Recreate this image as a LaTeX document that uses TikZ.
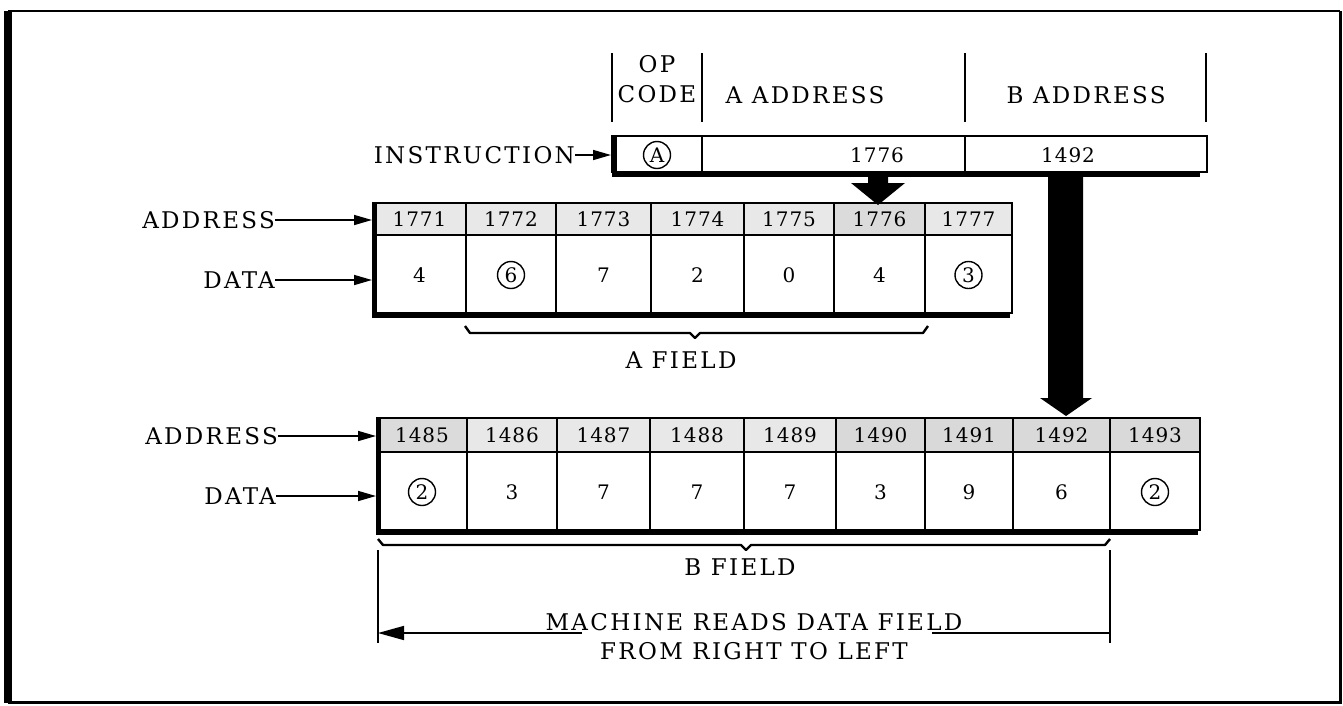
\documentclass[tikz,border=0pt]{standalone}
\usepackage{fontspec}
\setmainfont{DejaVu Serif}[LetterSpace=10]
\newfontfamily\digfont{DejaVu Serif}[LetterSpace=5]
\usetikzlibrary{arrows.meta}
\tikzset{
  txt/.style={font=\fontsize{23}{26}\selectfont, inner sep=0pt},
  dtxt/.style={font=\digfont\fontsize{20}{23}\selectfont, inner sep=0pt},
  cell/.style={line width=1.3pt},
  shadowline/.style={line width=5pt, line join=miter},
  lab/.style={-{Triangle[length=18pt,width=10pt]}, line width=1.6pt},
  plain/.style={},
  circ/.style={circle, draw, line width=1.4pt, minimum size=27pt, inner sep=0pt},
  brace/.style={line width=2.4pt, line join=round},
  bigarrow/.style={fill=black, draw=none},
}
\begin{document}
\begin{tikzpicture}[x=1pt,y=-1pt]
\useasboundingbox (0,0) rectangle (1343,705);
% frame
\draw[line width=2pt] (8,11) -- (1340,11);
\draw[line width=8pt] (8,11) -- (8,703);
\draw[line width=3pt] (1340,11) -- (1340,702) -- (8,702);

% header separators
\foreach \x in {612,702,965,1206} \draw[line width=1.6pt] (\x,53) -- (\x,122);
\node[txt] (op) at (657,64) {OP};
\node[txt] (code) at (657,94) {CODE};
\node[txt] (aaddr) at (805,95) {A ADDRESS};
\node[txt] (baddr) at (1086,95) {B ADDRESS};

% instruction box
\draw[cell] (612,136) rectangle (1207,172);
\draw[cell] (702,136) -- (702,172);
\draw[cell] (965,136) -- (965,172);
\draw[shadowline] (614,136) -- (614,174) -- (1200,174);
\node[txt, anchor=east] (instr) at (575,155) {INSTRUCTION};
\coordinate (instrL) at (611,155);
\draw[lab] (instr.east) -- (instrL);
\node[circ, dtxt] (opA) at (657,155) {A};
\node[dtxt] (ia) at (877,155) {1776};
\node[dtxt] (ib) at (1068,155) {1492};

% A memory
\foreach \l/\r/\a/\d/\s/\g [count=\i] in {
  373/466/1771/4/plain/18, 466/556/1772/6/circ/18, 556/651/1773/7/plain/18,
  651/744/1774/2/plain/18, 744/834/1775/0/plain/18, 834/925/1776/4/plain/28,
  925/1012/1777/3/circ/18}{
  \draw[cell, fill=gray!\g] (\l,203) rectangle (\r,235);
  \draw[cell] (\l,235) rectangle (\r,313);
  \node[dtxt] (aA\i) at ({(\l+\r)/2},219) {\a};
  \node[dtxt, \s] (aD\i) at ({(\l+\r)/2},275) {\d};
}
\draw[shadowline] (374,203) -- (374,315.5) -- (1010,315.5);
\node[txt, anchor=east] (addrA) at (275,220) {ADDRESS};
\node[txt, anchor=east] (dataA) at (275,280) {DATA};
\coordinate (amemA) at (372,220);
\coordinate (amemD) at (372,280);
\draw[lab] (addrA.east) -- (amemA);
\draw[lab] (dataA.east) -- (amemD);

% A field brace
\draw[brace] (465,326) -- (470,333) -- (690,333) -- (695,338) -- (700,333) -- (923,333) -- (928,326);
\node[txt] (afield) at (681,360) {A FIELD};

% A arrow (from instruction to 1776)
\coordinate (aarTip) at (878,205);
\fill[bigarrow] (868,176) -- (888,176) -- (888,183) -- (905,183) -- (aarTip) -- (851,183) -- (868,183) -- cycle;

% B arrow
\coordinate (barTip) at (1066,416);
\fill[bigarrow] (1048,177) -- (1083,177) -- (1083,398) -- (1092,398) -- (barTip) -- (1040,398) -- (1048,398) -- cycle;

% B memory
\foreach \l/\r/\a/\d/\s/\g [count=\i] in {
  377/467/1485/2/circ/28, 467/557/1486/3/plain/18, 557/650/1487/7/plain/18,
  650/744/1488/7/plain/18, 744/836/1489/7/plain/18, 836/925/1490/3/plain/30,
  925/1013/1491/9/plain/30, 1013/1110/1492/6/plain/30, 1110/1200/1493/2/circ/30}{
  \draw[cell, fill=gray!\g] (\l,418) rectangle (\r,452);
  \draw[cell] (\l,452) rectangle (\r,530);
  \node[dtxt] (bA\i) at ({(\l+\r)/2},435) {\a};
  \node[dtxt, \s] (bD\i) at ({(\l+\r)/2},492) {\d};
}
\draw[shadowline] (378,418) -- (378,532.5) -- (1198,532.5);
\node[txt, anchor=east] (addrB) at (278,436) {ADDRESS};
\node[txt, anchor=east] (dataB) at (276,496) {DATA};
\coordinate (bmemA) at (376,436);
\coordinate (bmemD) at (376,496);
\draw[lab] (addrB.east) -- (bmemA);
\draw[lab] (dataB.east) -- (bmemD);

% B field brace
\draw[brace] (378,539) -- (383,545) -- (741,545) -- (746,550) -- (751,545) -- (1105,545) -- (1110,539);
\node[txt] (bfield) at (740,567) {B FIELD};

% reading direction
\coordinate (vl1) at (378,550);
\coordinate (vl2) at (378,643);
\coordinate (vr1) at (1110,550);
\coordinate (vr2) at (1110,643);
\draw[line width=1.6pt] (vl1) -- (vl2);
\draw[line width=1.6pt] (vr1) -- (vr2);
\node[txt, anchor=base] (mach) at (754,630) {MACHINE READS DATA FIELD};
\node[txt] (from) at (754,651) {FROM RIGHT TO LEFT};
\coordinate (arL) at (378,633);
\coordinate (arM) at (582,633);
\coordinate (arR) at (1110,633);
\coordinate (arN) at (932,633);
\draw[line width=1.6pt, -{Triangle[length=26pt,width=14pt]}] (arM) -- (arL);
\draw[line width=1.6pt] (arR) -- (arN);
\end{tikzpicture}
\end{document}
